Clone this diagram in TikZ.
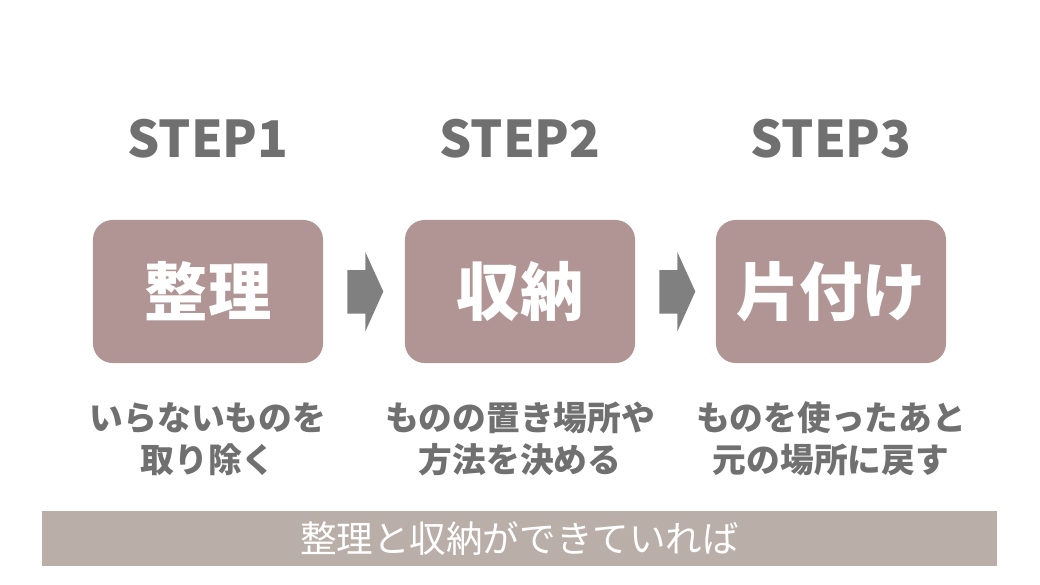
\documentclass[tikz,border=0pt]{standalone}
\usepackage{fontspec}
\setmainfont{Noto Sans CJK JP}
\usetikzlibrary{calc}
\definecolor{boxpink}{HTML}{B19595}
\definecolor{bargrey}{HTML}{B9AFA8}
\definecolor{textgrey}{HTML}{707070}
\definecolor{arrowgrey}{HTML}{808080}
\tikzstyle{stepbox} = [fill=boxpink, rectangle, rounded corners=14pt,
    minimum width=5.75cm, minimum height=3.575cm, text=white,
    font=\bfseries\fontsize{45}{50}\selectfont]
\tikzstyle{steptitle} = [text=textgrey, font=\bfseries\fontsize{36}{40}\selectfont]
\tikzstyle{stepnote} = [text=textgrey, align=center,
    font=\bfseries\fontsize{24}{30}\selectfont]
\tikzstyle{stepbar} = [fill=bargrey, rectangle, minimum width=23.875cm,
    minimum height=1.375cm, text=white, font=\fontsize{26}{30}\selectfont]
\tikzstyle{steparrow} = [fill=arrowgrey]

\begin{document}
\begin{tikzpicture}[x=0.025cm, y=-0.025cm]
    \useasboundingbox (0,0) rectangle (1040,585);
    % steps
    \node [stepbox] (box1) at (208,291.5) {整理};
    \node [stepbox] (box2) at (520,291.5) {収納};
    \node [stepbox] (box3) at (831,291.5) {片付け};
    \node [steptitle] (title1) at (208,139) {STEP1};
    \node [steptitle] (title2) at (520,139) {STEP2};
    \node [steptitle] (title3) at (831,139) {STEP3};
    \node [stepnote] (note1) at (208,439) {いらないものを\\取り除く};
    \node [stepnote] (note2) at (520,439) {ものの置き場所や\\方法を決める};
    \node [stepnote] (note3) at (831,439) {ものを使ったあと\\元の場所に戻す};
    % arrows between the boxes
    \fill [steparrow] ($(box1.east)+(24,-21.5)$) -- ++(18,0) -- ++(0,-18)
        -- ($(box1.east)+(60,0)$) -- ++(-18,40) -- ++(0,-18) -- ++(-18,0) -- cycle;
    \fill [steparrow] ($(box2.east)+(24,-21.5)$) -- ++(18,0) -- ++(0,-18)
        -- ($(box2.east)+(60,0)$) -- ++(-18,40) -- ++(0,-18) -- ++(-18,0) -- cycle;
    % bottom bar
    \node [stepbar] (bar) at (519.5,538.5) {整理と収納ができていれば};
\end{tikzpicture}
\end{document}
